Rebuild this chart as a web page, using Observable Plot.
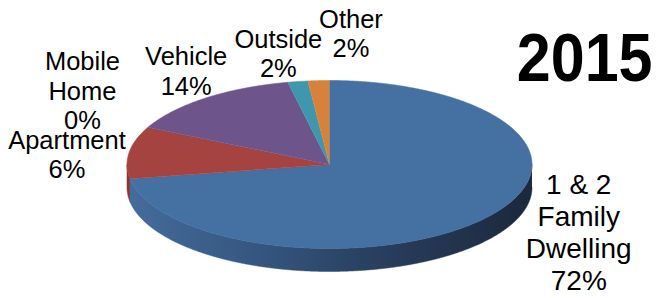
<!DOCTYPE html>
<html>
<head>
<meta charset="utf-8">
<script src="https://cdn.jsdelivr.net/npm/d3@7"></script>
<script src="https://cdn.jsdelivr.net/npm/@observablehq/plot@0.6"></script>
<style>
  html, body { margin: 0; padding: 0; background: #ffffff; }
</style>
</head>
<body>
<div id="chart"></div>
<script>
// ---------------- data ----------------
const categories = ["1 & 2 Family Dwelling", "Apartment", "Mobile Home", "Vehicle", "Outside", "Other"];
// shares of the pie as drawn
const shares = [72.3, 10, 0, 14.4, 1.6, 1.7];
const nameLabels = ["1 & 2\nFamily\nDwelling", "Apartment", "Mobile\nHome", "Vehicle", "Outside", "Other"];
const percentLabels = ["72%", "6%", "0%", "14%", "2%", "2%"];
const titleText = "2015";

// ---------------- styles / layout ----------------
const topColors = ["#4570A2", "#A4433F", "#8AAE4F", "#6D558B", "#3F97AE", "#D6823A"];
const sideColors = ["url(#sideBlue)", "#863632", "#6A8A3C", "#54406C", "#2F7487", "#A5632B"];
const W = 657, H = 298;
const CX = 329, CY = 164, RX = 202.5, RY = 84, DEPTH = 23;
const labelRadius = 1.3;
const labelNudge = [[48, -3], [-2, 5.6], [-11, -26], [18, -7.6], [-10, -3.4], [35.5, -22.4]];
const labelSize = [28, 25.5, 25.5, 25.5, 25.5, 25.5];

// ---------------- geometry (in unit-ellipse coordinates) ----------------
const rows = categories.map((c, i) => ({cat: c, share: shares[i], i}));
const arcs = d3.pie().sort(null).value(d => d.share)(rows);
const d = DEPTH / RY;
const step = 0.004;

const topPts = [];
const sidePts = [];
for (const a of arcs) {
  const {cat} = a.data;
  if (a.endAngle - a.startAngle <= 0) continue;
  topPts.push({cat, x: 0, y: 0});
  const n = Math.max(2, Math.ceil((a.endAngle - a.startAngle) / step));
  for (let k = 0; k <= n; k++) {
    const t = a.startAngle + (a.endAngle - a.startAngle) * k / n;
    topPts.push({cat, x: Math.sin(t), y: Math.cos(t)});
  }
  const lo = Math.max(a.startAngle, Math.PI / 2), hi = Math.min(a.endAngle, 3 * Math.PI / 2);
  if (hi > lo) {
    const m = Math.max(2, Math.ceil((hi - lo) / step));
    for (let k = 0; k <= m; k++) {
      const t = lo + (hi - lo) * k / m;
      sidePts.push({cat, i: a.data.i, x: Math.sin(t), y: Math.cos(t)});
    }
    for (let k = m; k >= 0; k--) {
      const t = lo + (hi - lo) * k / m;
      sidePts.push({cat, i: a.data.i, x: Math.sin(t), y: Math.cos(t) - d});
    }
  }
}

const labels = arcs.map(a => {
  const i = a.data.i;
  const mid = (a.startAngle + a.endAngle) / 2;
  return {
    text: nameLabels[i] + "\n" + percentLabels[i],
    x: labelRadius * Math.sin(mid) + labelNudge[i][0] / RX,
    y: labelRadius * Math.cos(mid) - labelNudge[i][1] / RY,
    size: labelSize[i]
  };
});

const sideMarks = categories.map((c, i) => {
  const pts = sidePts.filter(p => p.i === i);
  if (!pts.length) return null;
  return Plot.line(pts, {x: "x", y: "y", fill: sideColors[i], stroke: sideColors[i], strokeWidth: 0.5, curve: "linear"});
}).filter(Boolean);

const svg = Plot.plot({
  width: W,
  height: H,
  margin: 0,
  x: {domain: [(0 - CX) / RX, (W - CX) / RX], axis: null},
  y: {domain: [(CY - H) / RY, CY / RY], axis: null},
  color: {domain: categories, range: topColors},
  style: {fontFamily: "'Liberation Sans', Arial, Helvetica, sans-serif", background: "#ffffff", color: "#000000"},
  marks: [
    ...sideMarks,
    Plot.line(topPts, {x: "x", y: "y", z: "cat", fill: "cat", stroke: "cat", strokeWidth: 0.6, curve: "linear"}),
    Plot.text(labels, {x: "x", y: "y", text: "text", fontSize: "size", lineHeight: 1.15, textAnchor: "middle", lineAnchor: "middle", fill: "#000000"}),
    Plot.text([titleText], {frameAnchor: "top-right", dx: -5, dy: 31.5, fontSize: 61, fontWeight: "bold", fill: "#000000", className: "yeartitle"})
  ]
});

// gradient for the shaded side wall
const defs = d3.select(svg).insert("defs", ":first-child");
const g = defs.append("linearGradient").attr("id", "sideBlue")
  .attr("gradientUnits", "userSpaceOnUse")
  .attr("x1", CX - RX).attr("y1", 0).attr("x2", CX + RX).attr("y2", 0);
[[0, "#446C9C"], [0.35, "#34547D"], [0.6, "#29405F"], [1, "#1B283D"]]
  .forEach(([o, c]) => g.append("stop").attr("offset", o).attr("stop-color", c));

// the year is set in a tall bold face
d3.select(svg).selectAll(".yeartitle text").each(function() {
  const t = this.getAttribute("transform") || "";
  this.setAttribute("transform", t + " scale(1,1.13)");
});

document.getElementById("chart").appendChild(svg);
</script>
</body>
</html>
